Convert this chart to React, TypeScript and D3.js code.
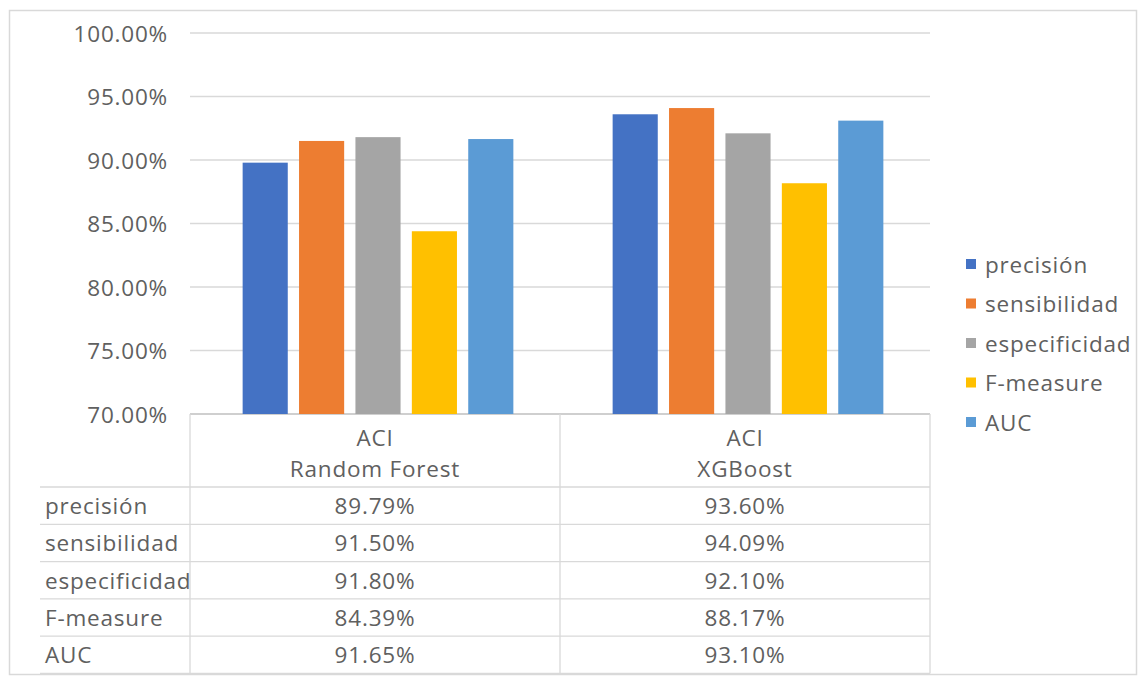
import React from "react";
import * as d3 from "d3";

// Model categories (two-line axis labels)
const categoryTop: string[] = ["ACI", "ACI"];
const categoryBottom: string[] = ["Random Forest", "XGBoost"];

// Metric series
const seriesNames: string[] = ["precisión", "sensibilidad", "especificidad", "F-measure", "AUC"];
const seriesColors: string[] = ["#4472C4", "#ED7D31", "#A5A5A5", "#FFC000", "#5B9BD5"];

// Values per metric: [Random Forest, XGBoost]
const precision: number[] = [0.8979, 0.936];
const sensibilidad: number[] = [0.915, 0.9409];
const especificidad: number[] = [0.918, 0.921];
const fMeasure: number[] = [0.8439, 0.8817];
const auc: number[] = [0.9165, 0.931];

const seriesValues: number[][] = [precision, sensibilidad, especificidad, fMeasure, auc];

const yTicks: number[] = [0.7, 0.75, 0.8, 0.85, 0.9, 0.95, 1.0];

const W = 1143;
const H = 679;
const FONT = "'Open Sans', 'DejaVu Sans', sans-serif";
const TEXT = "#606060";
const GRID = "#D9D9D9";
const LS = 0.8;

export default function App() {
  const plotLeft = 190;
  const plotRight = 930;
  const plotTop = 33;
  const plotBottom = 414;

  const y = d3.scaleLinear().domain([0.7, 1.0]).range([plotBottom, plotTop]);
  const x = d3
    .scaleBand<number>()
    .domain(d3.range(categoryTop.length))
    .range([plotLeft, plotRight])
    .padding(0);

  const inner = d3
    .scaleBand<number>()
    .domain(d3.range(seriesNames.length))
    .range([-141, 141])
    .paddingInner(0.2)
    .paddingOuter(0.1);

  const fmt = d3.format(".2%");

  // data table rows
  const headerBottom = 487;
  const rowH = 37.3;
  const tableBottom = headerBottom + rowH * seriesNames.length;

  const legendX = 966;
  const legendY0 = 264;
  const legendStep = 39.5;

  return (
    <svg
      width={W}
      height={H}
      style={{ position: "absolute", left: 0, top: 0, background: "#fff" }}
      fontFamily={FONT}
      letterSpacing={LS}
    >
      <rect x={0} y={0} width={W} height={H} fill="#fff" />
      <rect x={9.5} y={10.5} width={1127} height={664} fill="none" stroke={GRID} strokeWidth={1.5} />

      {/* gridlines + y tick labels */}
      {yTicks.map((t) => (
        <g key={t}>
          <line
            x1={plotLeft}
            x2={plotRight}
            y1={y(t)}
            y2={y(t)}
            stroke={t === 0.7 ? "#BFBFBF" : GRID}
            strokeWidth={1.3}
          />
          <text
            x={168}
            y={y(t)}
            textAnchor="end"
            dominantBaseline="central"
            fontSize={22.5}
            fill={TEXT}
          >
            {fmt(t)}
          </text>
        </g>
      ))}

      {/* bars */}
      {categoryTop.map((_, ci) => {
        const cx = (x(ci) as number) + x.bandwidth() / 2 + 3;
        return (
          <g key={ci}>
            {seriesValues.map((vals, si) => (
              <rect
                key={si}
                x={cx + (inner(si) as number)}
                y={y(vals[ci])}
                width={inner.bandwidth()}
                height={plotBottom - y(vals[ci])}
                fill={seriesColors[si]}
              />
            ))}
          </g>
        );
      })}

      {/* data table */}
      <g stroke={GRID} strokeWidth={1.3}>
        {[0, 1, 2].map((i) => {
          const xx = i === 0 ? plotLeft : i === 1 ? (x(1) as number) : plotRight;
          return <line key={i} x1={xx} x2={xx} y1={plotBottom} y2={tableBottom} />;
        })}
        {d3.range(seriesNames.length + 1).map((r) => (
          <line
            key={r}
            x1={40}
            x2={plotRight}
            y1={headerBottom + r * rowH}
            y2={headerBottom + r * rowH}
          />
        ))}
      </g>

      {categoryTop.map((top, ci) => {
        const cx = (x(ci) as number) + x.bandwidth() / 2;
        return (
          <g key={ci} fontSize={22.5} fill={TEXT} textAnchor="middle">
            <text x={cx} y={437} dominantBaseline="central">
              {top}
            </text>
            <text x={cx} y={468} dominantBaseline="central">
              {categoryBottom[ci]}
            </text>
          </g>
        );
      })}

      {seriesNames.map((name, si) => {
        const cy = headerBottom + si * rowH + rowH / 2;
        return (
          <g key={name} fontSize={22.5} fill={TEXT}>
            <text x={45} y={cy} dominantBaseline="central">
              {name}
            </text>
            {categoryTop.map((_, ci) => (
              <text
                key={ci}
                x={(x(ci) as number) + x.bandwidth() / 2}
                y={cy}
                textAnchor="middle"
                dominantBaseline="central"
              >
                {fmt(seriesValues[si][ci])}
              </text>
            ))}
          </g>
        );
      })}

      {/* legend */}
      {seriesNames.map((name, si) => {
        const cy = legendY0 + si * legendStep;
        return (
          <g key={name}>
            <rect x={legendX} y={cy - 5} width={10} height={10} fill={seriesColors[si]} />
            <text
              x={legendX + 19}
              y={cy}
              dominantBaseline="central"
              fontSize={22.5}
              fill={TEXT}
            >
              {name}
            </text>
          </g>
        );
      })}
    </svg>
  );
}
